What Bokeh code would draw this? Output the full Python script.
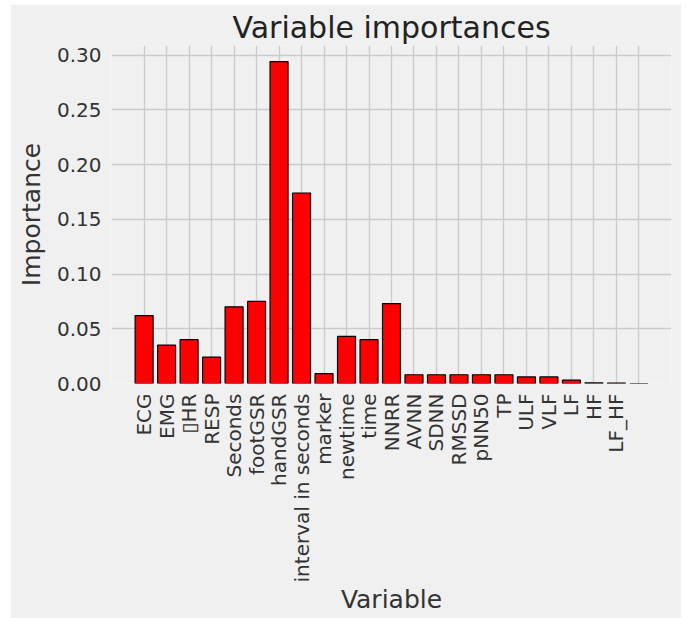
import math
from bokeh.plotting import figure
from bokeh.models import ColumnDataSource, FixedTicker, Range1d, NumeralTickFormatter
from bokeh.embed import file_html
from bokeh.resources import INLINE

variables = ["ECG", "EMG", "\u25afHR", "RESP", "Seconds", "footGSR", "handGSR",
             "interval in seconds", "marker", "newtime", "time", "NNRR", "AVNN",
             "SDNN", "RMSSD", "pNN50", "TP", "ULF", "VLF", "LF", "HF", "LF_HF", ""]
importances = [0.062, 0.035, 0.040, 0.024, 0.070, 0.075, 0.294,
               0.174, 0.009, 0.043, 0.040, 0.073, 0.008,
               0.008, 0.008, 0.008, 0.008, 0.006, 0.006, 0.003, 0.0005, 0.0004, 0.0]
y_ticks = [0.00, 0.05, 0.10, 0.15, 0.20, 0.25, 0.30]

positions = list(range(len(variables)))
src = ColumnDataSource(dict(x=positions, imp=importances, name=variables))

BG = "#f0f0f0"
FONT = "DejaVu Sans"

p = figure(width=671, height=614,
           x_range=Range1d(-1.45, len(variables) - 1 + 1.45),
           y_range=Range1d(0, max(importances) * 1.05),
           output_backend="svg", toolbar_location=None,
           background_fill_color=BG, border_fill_color=BG,
           outline_line_color=None,
           min_border_left=101, min_border_right=10,
           min_border_top=41, min_border_bottom=235)
p.margin = (4, 0, 0, 10)

p.title.text = "Variable importances"
p.title.text_font = FONT
p.title.text_font_size = "30px"
p.title.text_font_style = "normal"
p.title.text_color = "#222222"
p.title.align = "center"
p.title.standoff = 2
p.title.offset = 0

p.vbar(x="x", top="imp", width=0.8, bottom=0, source=src,
       fill_color="#ff0000", line_color="black", line_width=1.2)

xa = p.xaxis[0]
xa.ticker = FixedTicker(ticks=positions)
xa.major_label_overrides = {i: v for i, v in zip(positions, variables)}
xa.major_label_orientation = math.pi / 2
xa.axis_label = "Variable"

ya = p.yaxis[0]
ya.ticker = FixedTicker(ticks=y_ticks)
ya.formatter = NumeralTickFormatter(format="0.00")
ya.axis_label = "Importance"

for ax in (xa, ya):
    ax.axis_line_color = None
    ax.major_tick_line_color = None
    ax.minor_tick_line_color = None
    ax.major_tick_out = 0
    ax.major_tick_in = 0
    ax.major_label_text_font = FONT
    ax.major_label_text_font_size = "20px"
    ax.major_label_text_color = "#333333"
    ax.axis_label_text_font = FONT
    ax.axis_label_text_font_size = "25px"
    ax.axis_label_text_font_style = "normal"
    ax.axis_label_text_color = "#333333"
    ax.major_label_standoff = 10
    ax.axis_label_standoff = 8

xa.axis_label_standoff = 0

p.xgrid.grid_line_color = "#cbcbcb"
p.ygrid.grid_line_color = "#cbcbcb"
p.xgrid.grid_line_width = 1.4
p.ygrid.grid_line_width = 1.4

open("out.html", "w").write(file_html(p, INLINE))
